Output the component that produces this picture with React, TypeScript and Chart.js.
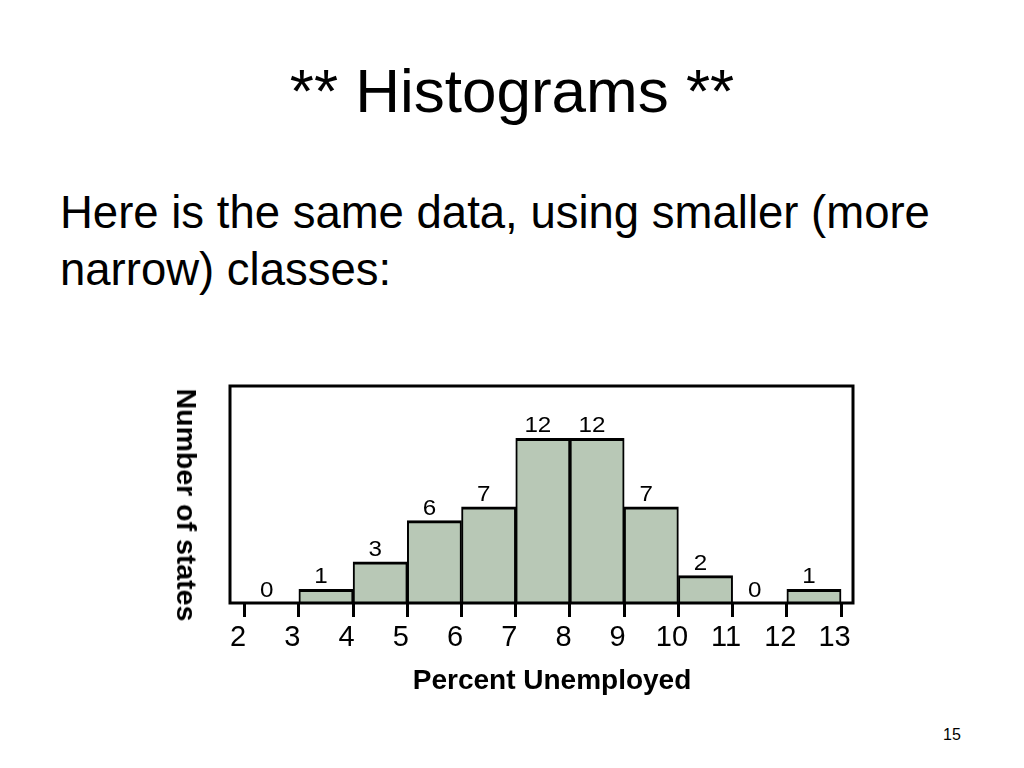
import React, { useEffect, useRef } from "react";
import { Chart, registerables } from "chart.js";

Chart.register(...registerables);

// ---- data ----
const binStarts = [2, 3, 4, 5, 6, 7, 8, 9, 10, 11, 12];
const counts = [0, 1, 3, 6, 7, 12, 12, 7, 2, 0, 1];
const tickValues = [2, 3, 4, 5, 6, 7, 8, 9, 10, 11, 12, 13];
const slideTitle = "** Histograms **";
const bodyLines = ["Here is the same data, using smaller (more", "narrow) classes:"];
const xAxisTitle = "Percent Unemployed";
const yAxisTitle = "Number of states";
const pageNumber = "15";

const FONT = '"Liberation Sans", Arial, Helvetica, sans-serif';
const BAR_FILL = "#b8c8b6";

const barLabelPlugin = {
  id: "barLabels",
  afterDatasetsDraw(chart: any) {
    const ctx = chart.ctx;
    const meta = chart.getDatasetMeta(0);
    meta.data.forEach((el: any, i: number) => {
      const { x, y } = el.getProps(["x", "y"], true);
      ctx.save();
      ctx.translate(x - 5, y - 6);
      ctx.scale(1.1, 1);
      ctx.font = `22px ${FONT}`;
      ctx.fillStyle = "#000";
      ctx.textAlign = "center";
      ctx.textBaseline = "alphabetic";
      ctx.fillText(String(counts[i]), 0, 0);
      ctx.restore();
    });
  },
};

const frameBoxPlugin = {
  id: "frameBox",
  afterDraw(chart: any) {
    const ctx = chart.ctx;
    const { left, top, right, bottom } = chart.chartArea;
    ctx.save();
    ctx.lineWidth = 3;
    ctx.strokeStyle = "#000";
    ctx.strokeRect(left, top, right - left, bottom - top);
    ctx.restore();
  },
};

function HistogramChart() {
  const canvasRef = useRef<HTMLCanvasElement | null>(null);

  useEffect(() => {
    if (!canvasRef.current) return;
    const data = binStarts.map((s, i) => ({ x: s + 0.5, y: counts[i] }));
    const chart = new Chart(canvasRef.current, {
      type: "bar",
      data: {
        datasets: [
          {
            data,
            backgroundColor: BAR_FILL,
            borderColor: "#000",
            borderWidth: { top: 3, left: 2, right: 2, bottom: 0 },
            borderSkipped: "start",
            barPercentage: 1,
            categoryPercentage: 1,
          } as any,
        ],
      },
      options: {
        animation: false,
        responsive: false,
        devicePixelRatio: 1,
        layout: { padding: { left: 30, right: 27, top: 16, bottom: 0 } },
        plugins: {
          legend: { display: false },
          tooltip: { enabled: false },
          title: { display: false },
        },
        scales: {
          x: {
            type: "linear",
            min: 1.73,
            max: 13.22,
            offset: false,
            afterBuildTicks: (scale: any) => {
              scale.ticks = tickValues.map((v) => ({ value: v }));
            },
            afterFit: (scale: any) => {
              scale.height = 97;
            },
            grid: {
              display: true,
              drawOnChartArea: false,
              drawTicks: true,
              tickLength: 14,
              lineWidth: 3,
              color: "#000",
              offset: false,
            },
            border: { display: false },
            ticks: {
              autoSkip: false,
              maxRotation: 0,
              color: "#000",
              padding: 4,
              labelOffset: -6.5,
              font: { family: FONT, size: 29 },
              callback: (v: any) => String(v),
            },
          } as any,
          y: {
            display: false,
            min: 0,
            max: 15.81,
          },
        },
      },
      plugins: [barLabelPlugin, frameBoxPlugin],
    });
    return () => chart.destroy();
  }, []);

  return (
    <canvas
      ref={canvasRef}
      width={680}
      height={330}
      style={{ position: "absolute", left: 200, top: 370, width: 680, height: 330 }}
    />
  );
}

export default function App() {
  return (
    <div
      style={{
        position: "absolute",
        left: 0,
        top: 0,
        width: 1024,
        height: 768,
        background: "#fff",
        overflow: "hidden",
        fontFamily: FONT,
        color: "#000",
      }}
    >
      <div
        style={{
          position: "absolute",
          left: 0,
          top: 60,
          width: 1024,
          textAlign: "center",
          fontSize: 62,
          lineHeight: "62px",
          whiteSpace: "nowrap",
        }}
      >
        {slideTitle}
      </div>
      <div
        style={{
          position: "absolute",
          left: 60,
          top: 184,
          fontSize: 45.5,
          lineHeight: "57px",
          whiteSpace: "nowrap",
        }}
      >
        {bodyLines.map((l, i) => (
          <div key={i}>{l}</div>
        ))}
      </div>
      <HistogramChart />
      <div
        style={{
          position: "absolute",
          left: 352,
          top: 666,
          width: 400,
          textAlign: "center",
          fontSize: 28,
          fontWeight: "bold",
          lineHeight: "28px",
          whiteSpace: "nowrap",
        }}
      >
        {xAxisTitle}
      </div>
      <div
        style={{
          position: "absolute",
          left: 187,
          top: 505,
          transform: "translate(-50%, -50%) rotate(90deg)",
          fontSize: 28.5,
          fontWeight: "bold",
          lineHeight: "28px",
          whiteSpace: "nowrap",
        }}
      >
        {yAxisTitle}
      </div>
      <div
        style={{
          position: "absolute",
          left: 932,
          top: 727,
          width: 40,
          textAlign: "center",
          fontSize: 16,
          lineHeight: "16px",
        }}
      >
        {pageNumber}
      </div>
    </div>
  );
}
